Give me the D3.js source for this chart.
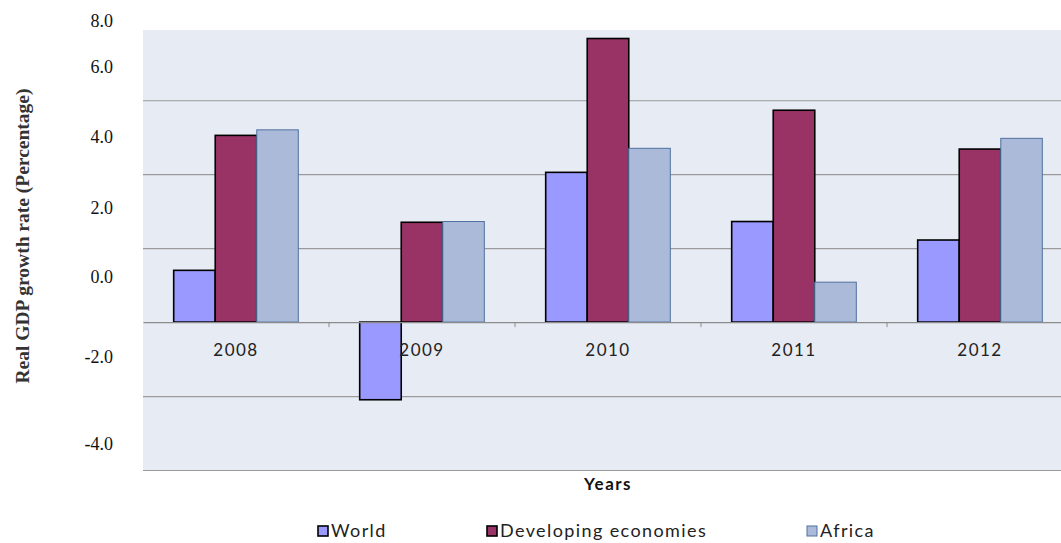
<!DOCTYPE html>
<html>
<head>
<meta charset="utf-8">
<script src="https://cdn.jsdelivr.net/npm/d3@7"></script>
<style>
  body { margin: 0; background: #fff; }
  svg { display: block; }
</style>
</head>
<body>
<div id="chart"></div>
<script>
var w = 1061;
var h = 543;

// data
var years = ["2008", "2009", "2010", "2011", "2012"];
var series = ["World", "Developing economies", "Africa"];
var world = [1.4, -2.1, 4.05, 2.72, 2.22];
var developing = [5.05, 2.7, 7.67, 5.73, 4.68];
var africa = [5.2, 2.72, 4.7, 1.08, 4.97];
var yTickLabels = [8, 6, 4, 2, 0, -2, -4];

// styles
var fills = ["#9999ff", "#993366", "#aabad8"];
var strokes = ["#000000", "#000000", "#4f71a0"];
var strokeW = [1.6, 1.6, 1];
// the tick labels in the source sit a bit above their gridlines
var labelNudge = [-5.6, -33.3, -38, -40.7, -45.3, -39.3, -26.7];
var sansFont = "Lato, 'Open Sans', sans-serif";
var serifFont = "'Liberation Serif', 'Times New Roman', serif";

var plot = { left: 143, right: 1073, top: 30, bottom: 470 };

var svg = d3.select("#chart")
  .append("svg")
  .attr("width", w)
  .attr("height", h);

var x0 = d3.scaleBand()
  .domain(years)
  .range([plot.left, plot.right])
  .paddingInner(0.33)
  .paddingOuter(0.165);

var x1 = d3.scaleBand()
  .domain(series)
  .range([0, x0.bandwidth()]);

var y = d3.scaleLinear()
  .domain([-4, 7.9])
  .range([plot.bottom, plot.top]);

// plot background
svg.append("rect")
  .attr("x", plot.left)
  .attr("y", plot.top)
  .attr("width", plot.right - plot.left)
  .attr("height", plot.bottom - plot.top)
  .attr("fill", "#e7ebf3");

// gridlines
var grid = svg.append("g")
  .attr("transform", "translate(" + plot.left + ",0)")
  .call(d3.axisLeft(y)
    .tickValues([-4, -2, 2, 4, 6])
    .tickSize(-(plot.right - plot.left))
    .tickFormat(""));
grid.select(".domain").remove();
grid.selectAll("line")
  .attr("stroke", "#9a9a9a")
  .attr("stroke-width", 1.2);

// bars
var rows = years.map((yr, i) => ({
  year: yr,
  values: [world[i], developing[i], africa[i]]
}));

var groups = svg.selectAll("g.year")
  .data(rows)
  .enter()
  .append("g")
  .attr("class", "year")
  .attr("transform", d => "translate(" + x0(d.year) + ",0)");

groups.selectAll("rect")
  .data(d => d.values.map((v, j) => ({ v: v, j: j })))
  .enter()
  .append("rect")
  .attr("x", d => x1(series[d.j]))
  .attr("y", d => y(Math.max(0, d.v)))
  .attr("width", x1.bandwidth())
  .attr("height", d => Math.abs(y(d.v) - y(0)))
  .attr("fill", d => fills[d.j])
  .attr("stroke", d => strokes[d.j])
  .attr("stroke-width", d => strokeW[d.j]);

// x axis on zero line
var xAxis = svg.append("g")
  .attr("transform", "translate(0," + y(0) + ")")
  .call(d3.axisBottom(x0).tickSize(0).tickPadding(22));
xAxis.select(".domain")
  .attr("stroke", "#8c8c8c")
  .attr("stroke-width", 1.2);
xAxis.selectAll("text")
  .attr("font-family", sansFont)
  .attr("font-size", "17px")
  .attr("letter-spacing", "1.5px")
  .attr("fill", "#222");

// small ticks between categories
svg.append("g")
  .selectAll("line")
  .data(years.slice(1))
  .enter()
  .append("line")
  .attr("x1", d => x0(d) - x0.step() * 0.165)
  .attr("x2", d => x0(d) - x0.step() * 0.165)
  .attr("y1", y(0))
  .attr("y2", y(0) + 5)
  .attr("stroke", "#8c8c8c");

// y tick labels
svg.append("g")
  .selectAll("text")
  .data(yTickLabels)
  .enter()
  .append("text")
  .attr("x", 113)
  .attr("y", (d, i) => y(d) + labelNudge[i])
  .attr("dy", "0.35em")
  .attr("text-anchor", "end")
  .style("font-family", serifFont)
  .style("font-size", "18px")
  .attr("fill", "#111")
  .text(d => d.toFixed(1));

// y axis title
svg.append("text")
  .attr("transform", "translate(22,236) rotate(-90)")
  .attr("text-anchor", "middle")
  .attr("dy", "0.35em")
  .style("font-family", serifFont)
  .style("font-weight", "bold")
  .style("font-size", "19.5px")
  .attr("fill", "#333")
  .text("Real GDP growth rate (Percentage)");

// x axis title
svg.append("text")
  .attr("x", 608)
  .attr("y", 484)
  .attr("dy", "0.35em")
  .attr("text-anchor", "middle")
  .attr("font-family", sansFont)
  .attr("font-weight", "bold")
  .attr("font-size", "17px")
  .attr("letter-spacing", "1.5px")
  .attr("fill", "#111")
  .text("Years");

// legend
var legendX = [318, 487, 807];
var legend = svg.selectAll("g.legend")
  .data(series)
  .enter()
  .append("g")
  .attr("class", "legend")
  .attr("transform", (d, i) => "translate(" + legendX[i] + ",531)");

legend.append("rect")
  .attr("x", 0)
  .attr("y", -5)
  .attr("width", 10)
  .attr("height", 10)
  .attr("fill", (d, i) => fills[i])
  .attr("stroke", (d, i) => strokes[i])
  .attr("stroke-width", (d, i) => i < 2 ? 1.6 : 1);

legend.append("text")
  .attr("x", 13)
  .attr("y", 0)
  .attr("dy", "0.35em")
  .attr("font-family", sansFont)
  .attr("font-size", "18px")
  .attr("letter-spacing", "1.4px")
  .attr("fill", "#222")
  .text(d => d);
</script>
</body>
</html>
